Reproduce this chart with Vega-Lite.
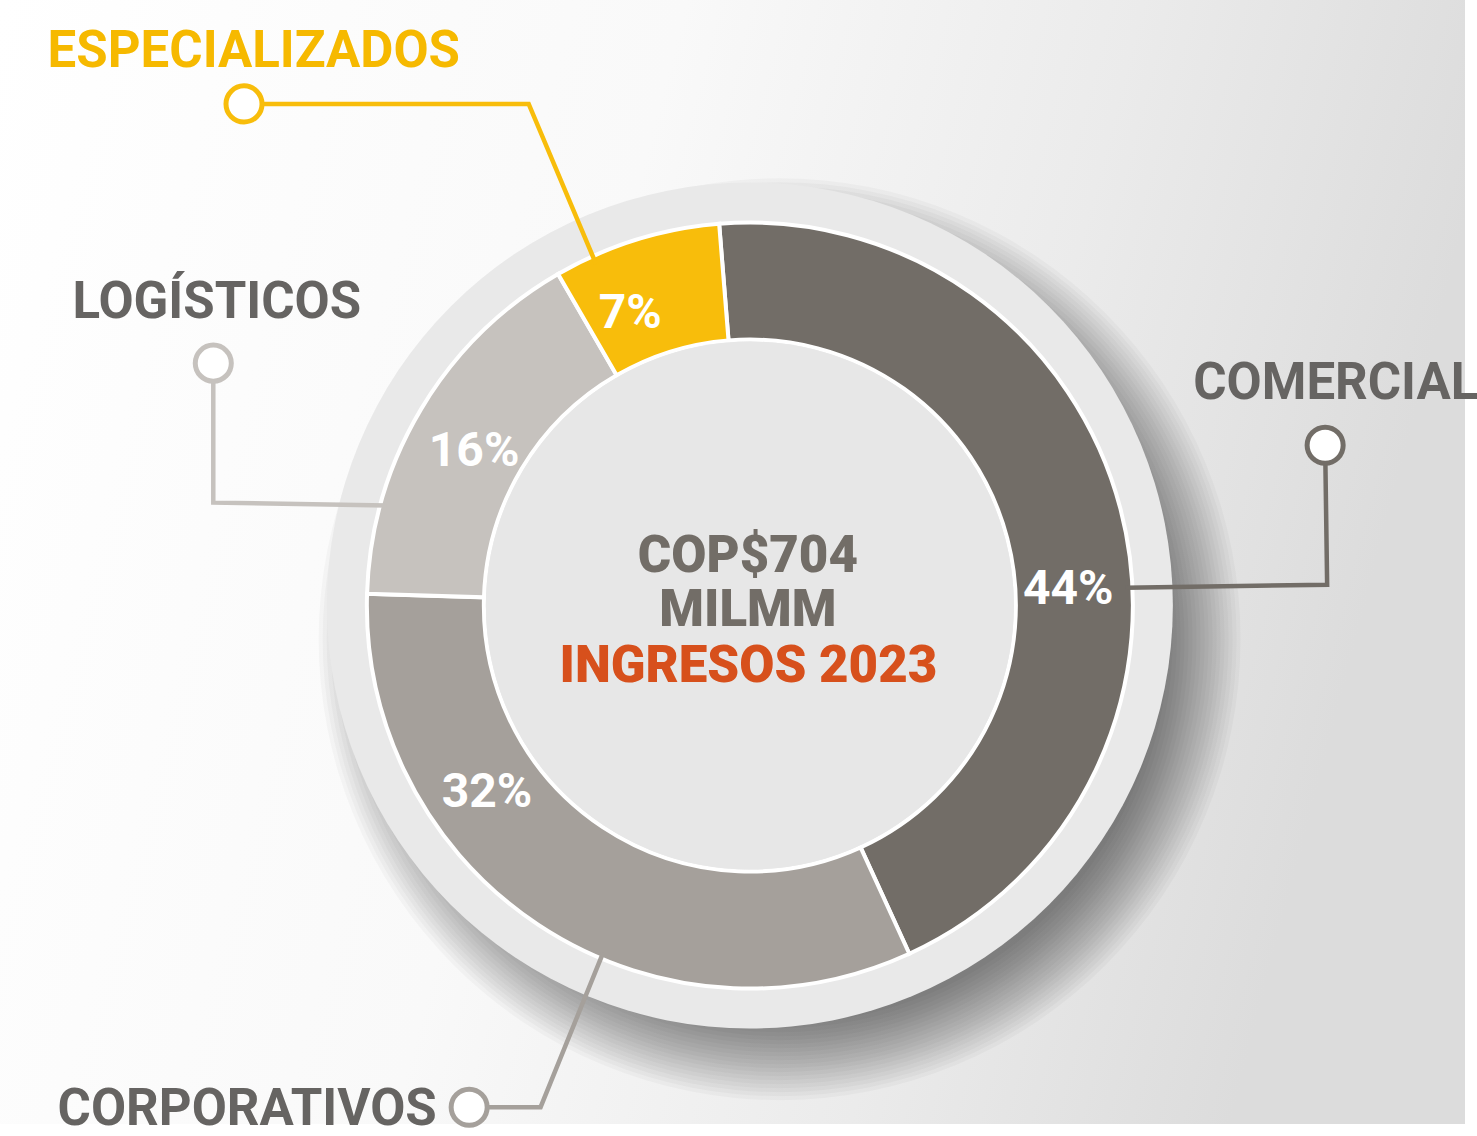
{
  "$schema": "https://vega.github.io/schema/vega-lite/v6.json",
  "width": 1477,
  "height": 1136,
  "autosize": {"type": "fit", "contains": "padding"},
  "padding": 0,
  "background": "#ffffff",
  "config": {"view": {"stroke": null}, "axis": {"disable": true}},
  "datasets": {
    "segments": [
      {"category": "Comercial", "pct": 44, "rank": 1},
      {"category": "Corporativos", "pct": 32, "rank": 2},
      {"category": "Logísticos", "pct": 16, "rank": 3},
      {"category": "Especializados", "pct": 7, "rank": 4}
    ],
    "callouts": [
      {"category": "Especializados", "step": 1, "u": -133.86, "v": 133.07},
      {"category": "Especializados", "step": 2, "u": -58.53, "v": 133.07},
      {"category": "Especializados", "step": 3, "u": -40.68, "v": 90.55},
      {"category": "Logísticos", "step": 1, "u": -141.99, "v": 64.3},
      {"category": "Logísticos", "step": 2, "u": -141.99, "v": 27.3},
      {"category": "Logísticos", "step": 3, "u": -96.06, "v": 26.51},
      {"category": "Comercial", "step": 1, "u": 152.23, "v": 42.52},
      {"category": "Comercial", "step": 2, "u": 152.76, "v": 5.51},
      {"category": "Comercial", "step": 3, "u": 99.48, "v": 4.72},
      {"category": "Corporativos", "step": 1, "u": -74.28, "v": -133.07},
      {"category": "Corporativos", "step": 2, "u": -55.38, "v": -133.07},
      {"category": "Corporativos", "step": 3, "u": -38.85, "v": -92.13}
    ],
    "markers": [
      {"category": "Especializados", "u": -133.86, "v": 133.07},
      {"category": "Logísticos", "u": -141.99, "v": 64.3},
      {"category": "Comercial", "u": 152.23, "v": 42.52},
      {"category": "Corporativos", "u": -74.28, "v": -133.07}
    ],
    "labels": [
      {"category": "Especializados", "text": "ESPECIALIZADOS", "u": -185.83, "v": 142.78},
      {"category": "Logísticos", "text": "LOGÍSTICOS", "u": -179.27, "v": 76.38},
      {"category": "Comercial", "text": "COMERCIAL", "u": 117.32, "v": 54.86},
      {"category": "Corporativos", "text": "CORPORATIVOS", "u": -183.2, "v": -137.8}
    ],
    "pctlabels": [
      {"category": "Comercial", "label": "44%", "u": 84.25, "v": 0.52},
      {"category": "Corporativos", "label": "32%", "u": -69.55, "v": -53.54},
      {"category": "Logísticos", "label": "16%", "u": -72.97, "v": 37.01},
      {"category": "Especializados", "label": "7%", "u": -31.63, "v": 73.49}
    ],
    "center": [
      {"line": "COP$704", "u": -0.52, "v": 8.92},
      {"line": "MILMM", "u": -0.52, "v": -5.51},
      {"line": "INGRESOS 2023", "u": -0.39, "v": -20.21}
    ],
    "one": [{}]
  },
  "layer": [
    {
      "data": {"name": "one"},
      "mark": {"type": "rect", "fill": {"gradient": "linear", "x1": 0, "y1": 0, "x2": 1, "y2": 0.2, "stops": [{"offset": 0, "color": "#ffffff"}, {"offset": 0.45, "color": "#f9f9f9"}, {"offset": 0.75, "color": "#ebebeb"}, {"offset": 1, "color": "#dcdcdc"}]}},
      "encoding": {
        "x": {"datum": -198.43, "type": "quantitative", "scale": {"domain": [-198.43, 189.24], "nice": false, "zero": false}, "axis": null},
        "x2": {"datum": 189.24},
        "y": {"datum": -137.53, "type": "quantitative", "scale": {"domain": [-137.53, 160.63], "nice": false, "zero": false}, "axis": null},
        "y2": {"datum": 160.63}
      }
    },
    {
      "data": {"name": "one"},
      "encoding": {"x": {"datum": 7.87, "type": "quantitative"}, "y": {"datum": -8.92, "type": "quantitative"}},
      "layer": [
        {"mark": {"type": "arc", "theta": 0, "theta2": 6.2832, "radius": 461, "fill": "#000000", "fillOpacity": 0.026}},
        {"mark": {"type": "arc", "theta": 0, "theta2": 6.2832, "radius": 457, "fill": "#000000", "fillOpacity": 0.026}},
        {"mark": {"type": "arc", "theta": 0, "theta2": 6.2832, "radius": 453, "fill": "#000000", "fillOpacity": 0.026}},
        {"mark": {"type": "arc", "theta": 0, "theta2": 6.2832, "radius": 449, "fill": "#000000", "fillOpacity": 0.026}},
        {"mark": {"type": "arc", "theta": 0, "theta2": 6.2832, "radius": 445, "fill": "#000000", "fillOpacity": 0.026}},
        {"mark": {"type": "arc", "theta": 0, "theta2": 6.2832, "radius": 441, "fill": "#000000", "fillOpacity": 0.026}},
        {"mark": {"type": "arc", "theta": 0, "theta2": 6.2832, "radius": 437, "fill": "#000000", "fillOpacity": 0.026}},
        {"mark": {"type": "arc", "theta": 0, "theta2": 6.2832, "radius": 433, "fill": "#000000", "fillOpacity": 0.026}},
        {"mark": {"type": "arc", "theta": 0, "theta2": 6.2832, "radius": 429, "fill": "#000000", "fillOpacity": 0.026}},
        {"mark": {"type": "arc", "theta": 0, "theta2": 6.2832, "radius": 425, "fill": "#000000", "fillOpacity": 0.026}},
        {"mark": {"type": "arc", "theta": 0, "theta2": 6.2832, "radius": 421, "fill": "#000000", "fillOpacity": 0.026}},
        {"mark": {"type": "arc", "theta": 0, "theta2": 6.2832, "radius": 417, "fill": "#000000", "fillOpacity": 0.026}},
        {"mark": {"type": "arc", "theta": 0, "theta2": 6.2832, "radius": 413, "fill": "#000000", "fillOpacity": 0.026}},
        {"mark": {"type": "arc", "theta": 0, "theta2": 6.2832, "radius": 409, "fill": "#000000", "fillOpacity": 0.026}},
        {"mark": {"type": "arc", "theta": 0, "theta2": 6.2832, "radius": 405, "fill": "#000000", "fillOpacity": 0.026}},
        {"mark": {"type": "arc", "theta": 0, "theta2": 6.2832, "radius": 401, "fill": "#000000", "fillOpacity": 0.026}},
        {"mark": {"type": "arc", "theta": 0, "theta2": 6.2832, "radius": 397, "fill": "#000000", "fillOpacity": 0.026}},
        {"mark": {"type": "arc", "theta": 0, "theta2": 6.2832, "radius": 393, "fill": "#000000", "fillOpacity": 0.026}},
        {"mark": {"type": "arc", "theta": 0, "theta2": 6.2832, "radius": 389, "fill": "#000000", "fillOpacity": 0.026}},
        {"mark": {"type": "arc", "theta": 0, "theta2": 6.2832, "radius": 385, "fill": "#000000", "fillOpacity": 0.026}}
      ]
    },
    {
      "data": {"name": "one"},
      "mark": {"type": "arc", "theta": 0, "theta2": 6.2832, "radius": 423, "fill": "#e9e9e9"},
      "encoding": {"x": {"datum": 0, "type": "quantitative"}, "y": {"datum": 0, "type": "quantitative"}}
    },
    {
      "data": {"name": "segments"},
      "mark": {"type": "arc", "outerRadius": 383, "innerRadius": 266, "stroke": "#ffffff", "strokeWidth": 4},
      "encoding": {
        "x": {"datum": 0, "type": "quantitative"},
        "y": {"datum": 0, "type": "quantitative"},
        "theta": {"field": "pct", "type": "quantitative", "stack": true, "scale": {"range": [-0.0803, 6.2029]}},
        "order": {"field": "rank", "type": "quantitative"},
        "color": {"field": "category", "type": "nominal", "scale": {"domain": ["Comercial", "Corporativos", "Logísticos", "Especializados"], "range": ["#726d67", "#a5a09b", "#c6c2be", "#f8bd0b"]}, "legend": null}
      }
    },
    {
      "data": {"name": "one"},
      "mark": {"type": "arc", "theta": 0, "theta2": 6.2832, "radius": 264, "fill": "#e7e7e7"},
      "encoding": {"x": {"datum": 0, "type": "quantitative"}, "y": {"datum": 0, "type": "quantitative"}}
    },
    {
      "data": {"name": "callouts"},
      "mark": {"type": "line", "strokeWidth": 4.5, "strokeJoin": "miter"},
      "encoding": {
        "x": {"field": "u", "type": "quantitative"},
        "y": {"field": "v", "type": "quantitative"},
        "order": {"field": "step", "type": "quantitative"},
        "color": {"field": "category", "type": "nominal", "legend": null}
      }
    },
    {
      "data": {"name": "markers"},
      "mark": {"type": "point", "shape": "circle", "size": 1300, "strokeWidth": 5, "filled": false, "fill": "#ffffff", "opacity": 1},
      "encoding": {
        "x": {"field": "u", "type": "quantitative"},
        "y": {"field": "v", "type": "quantitative"},
        "color": {"field": "category", "type": "nominal", "legend": null}
      }
    },
    {
      "data": {"name": "labels"},
      "mark": {"type": "text", "align": "left", "baseline": "alphabetic", "font": "Roboto", "fontWeight": "bold", "fontSize": 51},
      "encoding": {
        "x": {"field": "u", "type": "quantitative"},
        "y": {"field": "v", "type": "quantitative"},
        "text": {"field": "text"},
        "color": {"condition": {"test": "datum.category === 'Especializados'", "value": "#f6b900"}, "value": "#666462"}
      }
    },
    {
      "data": {"name": "pctlabels"},
      "mark": {"type": "text", "align": "center", "baseline": "alphabetic", "font": "Roboto", "fontWeight": "bold", "fontSize": 48, "color": "#ffffff"},
      "encoding": {
        "x": {"field": "u", "type": "quantitative"},
        "y": {"field": "v", "type": "quantitative"},
        "text": {"field": "label"}
      }
    },
    {
      "data": {"name": "center"},
      "mark": {"type": "text", "align": "center", "baseline": "alphabetic", "font": "Roboto", "fontWeight": 900, "fontSize": 51},
      "encoding": {
        "x": {"field": "u", "type": "quantitative"},
        "y": {"field": "v", "type": "quantitative"},
        "text": {"field": "line"},
        "color": {"condition": {"test": "datum.line === 'INGRESOS 2023'", "value": "#d7501c"}, "value": "#726d67"}
      }
    }
  ]
}
